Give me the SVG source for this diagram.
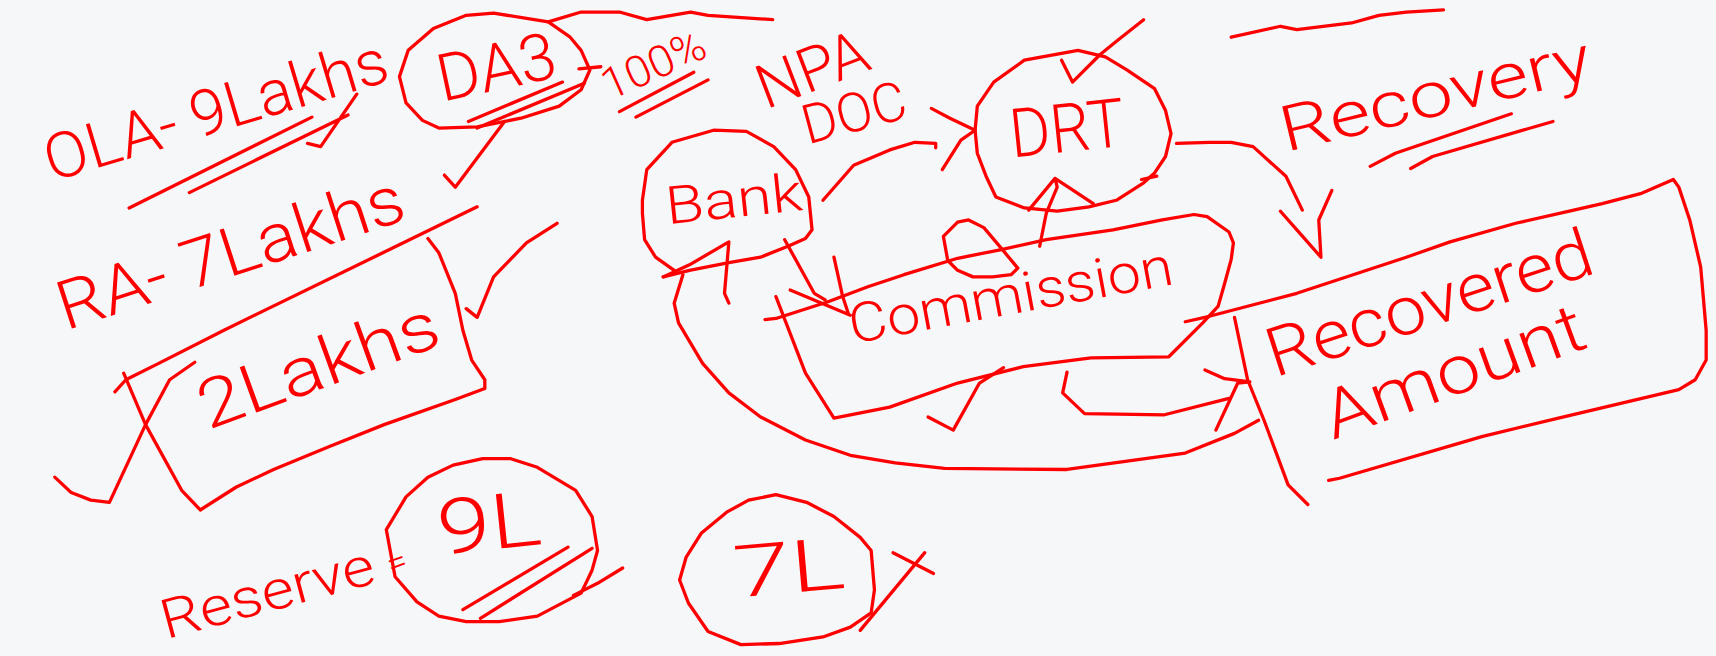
<svg xmlns="http://www.w3.org/2000/svg" width="1716" height="656" viewBox="0 0 1716 656">
<style>
.s{fill:none;stroke:#ff0000;stroke-width:3;stroke-linecap:round;stroke-linejoin:round}
.t{fill:#ff0000;font-family:Roboto,"Liberation Sans",Arial,sans-serif;font-weight:300}
</style>
<rect x="0" y="0" width="1716" height="656" fill="#f6f7f9"/>
<g transform="scale(1.0944)">
<g id="node-ola">
<text class="t" transform="translate(47 166) rotate(-16.6)" font-size="58" textLength="325" lengthAdjust="spacingAndGlyphs">OLA- 9Lakhs</text>
<path class="s" d="M118,190 L285,107 M173,176 L318,105 M281,131 L293,134 L326,86"/>
</g>
<g id="node-da3">
<path class="s" d="M501,20 L451,12 L426,14 L396,26 L373,46 L365,70 L371,94 L386,110 L401,117 L436,116 L476,108 L511,97 L531,82 L539,64 L531,46 L521,34 L501,20"/>
<text class="t" transform="translate(404 93) rotate(-12)" font-size="60" textLength="110" lengthAdjust="spacingAndGlyphs">DA3</text>
<path class="s" d="M428,111 L514,75 M436,117 L534,76"/>
</g>
<g id="node-100">
<text class="t" transform="translate(557 92) rotate(-24)" font-size="40" textLength="100" lengthAdjust="spacingAndGlyphs">100%</text>
<path class="s" d="M566,102 L634,66 M581,107 L647,73"/>
</g>
<g id="node-ra">
<text class="t" transform="translate(60 302) rotate(-18)" font-size="62" textLength="330" lengthAdjust="spacingAndGlyphs">RA- 7Lakhs</text>
</g>
<g id="node-2lakhs">
<path class="s" d="M436,189 L206,301 L145,332 L115,347 L105,358"/>
<path class="s" d="M391,218 L401,231 L416,268 L423,302 L431,329 L443,347 L443,355 L416,365 L351,388 L301,408 L250,429 L216,445 L183,466 L166,448 L133,388 L113,341"/>
<path class="s" d="M178,331 L155,347 L133,388 L100,459 L83,457 L65,450 L50,436"/>
<text class="t" transform="translate(190 393) rotate(-20)" font-size="62" textLength="230" lengthAdjust="spacingAndGlyphs">2Lakhs</text>
</g>
<g id="node-reserve">
<text class="t" transform="translate(152 584) rotate(-15)" font-size="50" textLength="200" lengthAdjust="spacingAndGlyphs">Reserve</text>
<text class="t" transform="translate(358 527) rotate(-20)" font-size="32">=</text>
</g>
<g id="node-9l">
<path class="s" d="M353,484 L371,454 L391,436 L414,425 L441,419 L466,419 L491,427 L526,448 L541,472 L546,503 L541,521 L531,542 L491,563 L456,568 L426,568 L401,563 L381,550 L361,527 L353,484"/>
<text class="t" transform="translate(402 507) rotate(-6)" font-size="70" textLength="95" lengthAdjust="spacingAndGlyphs">9L</text>
<path class="s" d="M423,557 L519,500 M439,565 L541,501 M524,544 L546,533 L569,519"/>
</g>
<g id="node-7l">
<path class="s" d="M621,530 L627,509 L641,487 L664,468 L684,457 L709,452 L737,459 L762,472 L786,491 L796,503 L799,539 L796,560 L777,573 L752,582 L712,588 L677,589 L647,577 L629,551 L621,530"/>
<text class="t" transform="translate(672 546) rotate(-5)" font-size="66" textLength="102" lengthAdjust="spacingAndGlyphs">7L</text>
</g>
<g id="node-npadoc">
<text class="t" transform="translate(700 100) rotate(-21)" font-size="56" textLength="105" lengthAdjust="spacingAndGlyphs">NPA</text>
<text class="t" transform="translate(738 132) rotate(-15)" font-size="50" textLength="97" lengthAdjust="spacingAndGlyphs">DOC</text>
</g>
<g id="node-drt">
<path class="s" d="M891,119 L893,97 L908,75 L936,55 L985,46 L1010,52 L1030,64 L1055,81 L1065,101 L1070,122 L1065,143 L1055,158 L1045,167 L1020,183 L995,189 L966,193 L936,190 L910,180 L901,161 L893,140 L891,119"/>
<text class="t" transform="translate(925 144) rotate(-6)" font-size="62" textLength="105" lengthAdjust="spacingAndGlyphs">DRT</text>
<path class="s" d="M1043,164 L1057,161"/>
</g>
<g id="node-bank">
<path class="s" d="M616,247 L599,235 L589,219 L587,195 L587,183 L591,155 L614,130 L652,119 L682,120 L707,134 L727,155 L739,180 L742,210 L736,218 L720,225 L695,235 L666,240 L630,247 L606,253"/>
<text class="t" transform="translate(610 205) rotate(-6)" font-size="48" textLength="125" lengthAdjust="spacingAndGlyphs">Bank</text>
<path class="s" d="M606,253 L630,242 L666,221 L662,268 L666,277"/>
</g>
<g id="node-commission">
<path class="s" d="M699,292 L709,291 L756,276 L793,262 L826,251 L875,236 L915,228 L956,219 L1017,210 L1062,201 L1091,196 L1103,198 L1123,212 L1127,222 L1125,237 L1119,259 L1113,280 L1099,295 L1068,326 L997,327 L935,335 L875,350 L813,372 L762,382 L736,341 L709,271"/>
<path class="s" d="M866,238 L862,216 L875,203 L885,201 L899,208 L915,227 L930,245 L924,251 L907,253 L889,253 L875,247 L866,238"/>
<text class="t" transform="translate(779 314) rotate(-10.5)" font-size="50" textLength="300" lengthAdjust="spacingAndGlyphs">Commission</text>
<path class="s" d="M848,381 L871,393 L895,350 L917,336"/>
</g>
<g id="node-recovery">
<text class="t" transform="translate(1175 139) rotate(-13.5)" font-size="58" textLength="290" lengthAdjust="spacingAndGlyphs">Recovery</text>
<path class="s" d="M1252,152 L1275,140 L1381,104 M1289,154 L1309,143 L1419,111 M1125,34 L1170,24 L1185,27 L1235,21 L1260,14 L1285,11 L1319,9"/>
</g>
<g id="node-recovered">
<path class="s" d="M1083,294 L1105,289 L1185,268 L1285,235 L1325,221 L1385,204 L1434,193 L1464,186 L1499,177 L1529,164 L1534,171 L1544,201 L1554,244 L1559,302 L1559,329 L1549,347 L1534,356 L1424,382 L1354,399 L1224,437 L1214,439"/>
<path class="s" d="M1128,290 L1140,347 L1155,384 L1177,443 L1195,461"/>
<text class="t" transform="translate(1165 345) rotate(-18)" font-size="62" textLength="310" lengthAdjust="spacingAndGlyphs">Recovered</text>
<text class="t" transform="translate(1218 402) rotate(-20)" font-size="62" textLength="250" lengthAdjust="spacingAndGlyphs">Amount</text>
</g>
<g id="connectors">
<path class="s" d="M501,20 L531,11 L566,11 L591,18 L631,11 L647,14 L706,18"/>
<path class="s" d="M529,63 L549,61"/>
<path class="s" d="M461,111 L416,171 L406,160"/>
<path class="s" d="M509,204 L481,222 L451,253 L436,290 L426,282"/>
<path class="s" d="M816,505 L853,524 M845,505 L786,576"/>
<path class="s" d="M752,183 L780,151 L813,137 L836,130 L855,131 L855,135"/>
<path class="s" d="M851,99 L868,108 L891,119 M861,155 L878,128 L891,119"/>
<path class="s" d="M1045,18 L1021,37 L1005,50 L980,75 L970,55"/>
<path class="s" d="M1075,131 L1105,130 L1125,130 L1145,134 L1175,161 L1190,192 M1170,193 L1185,210 L1207,235 L1205,201 L1217,174"/>
<path class="s" d="M950,225 L956,195 L966,171 L964,163 L940,192 M964,163 L999,186"/>
<path class="s" d="M717,219 L744,268 L754,274 M722,265 L777,288 M762,235 L770,271 L775,286"/>
<path class="s" d="M624,251 L616,277 L620,295 L642,332 L666,359 L695,381 L736,402 L777,416 L818,423 L863,428 L975,429 L1083,414 L1128,396 L1150,384"/>
<path class="s" d="M975,340 L971,359 L991,378 L1064,379 L1123,364 M1101,338 L1119,346 L1142,349 M1111,393 L1131,350 L1142,349"/>
</g>
</g>
</svg>
